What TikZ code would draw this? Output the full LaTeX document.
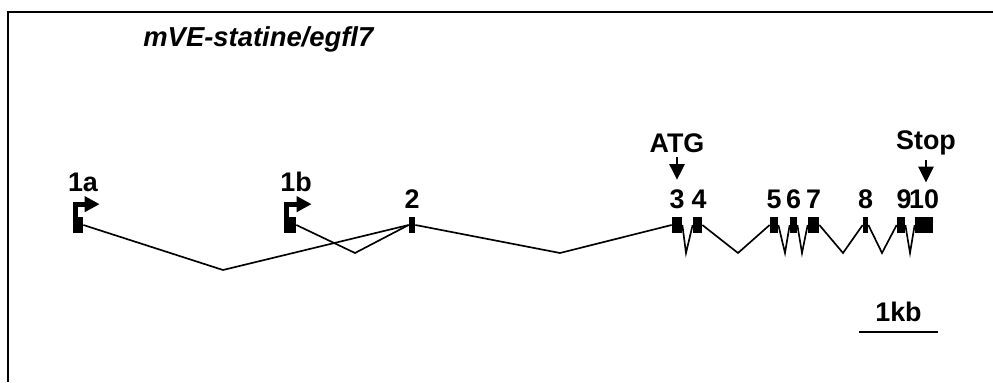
\documentclass[tikz,border=0pt]{standalone}
\usepackage{fontspec}
\setmainfont{Liberation Sans}
\usetikzlibrary{positioning,arrows.meta,calc}

\begin{document}
\begin{tikzpicture}[x=0.02cm, y=0.02cm, %
        exon/.style={fill=black, rectangle, inner sep=0pt, minimum height=0.32cm},
        intron/.style={draw, line width=0.95pt, line join=miter},
        lab/.style={inner sep=0pt, font=\fontsize{15.3}{17}\selectfont\bfseries},
        prom/.style={draw, line width=2.8pt, line join=miter, -{Triangle[length=8.5pt, width=8.5pt]}},
        pointer/.style={draw, line width=1.6pt, -{Triangle[length=9pt, width=8.5pt]}}
        ]
        \useasboundingbox (0,0) rectangle (993,382);
        \draw[line width=1.1pt] (8,0) |- (993,370);
        \node[lab, font=\fontsize{15.6}{17}\selectfont\bfseries\itshape, anchor=west] (gene) at (143,343) {mVE-statine/egfl7};
        % exons
        \foreach \n/\x/\w in {1a/78/10, 1b/290/12, 2/412/6, 3/677/10, 4/697.5/9,
          5/774/8, 6/793.5/7, 7/813.5/11, 8/865.5/5, 9/901/8, 10/924/18}
          \node[exon, minimum width=\w*0.02cm] (e\n) at (\x,157) {};
        \foreach \n/\s in {2/0, 3/0, 4/1.5, 5/0, 6/0, 7/0, 8/0, 9/3, 10/0}
          \node[lab, above=0.15cm of e\n, xshift=\s*0.02cm] (l\n) {\n};
        \node[lab] (l1a) at (83,200) {1a};
        \node[lab] (l1b) at (296,200) {1b};
        % promoters
        \draw[prom] ([xshift=0.05cm]e1a.north west) |- ++(24.5,12.5);
        \draw[prom] ([xshift=0.05cm]e1b.north west) |- ++(25.5,12.5);
        % splicing
        \draw[intron] (e1a.east) -- (223,112) -- (e2.west);
        \draw[intron] (e1b.east) -- (355,129) -- (e2.west);
        \draw[intron] (e2.east) -- (560,129) -- (e3.west);
        \draw[intron] (e3.east) -- (686,129) -- (e4.west);
        \draw[intron] (e4.east) -- (738,129) -- (e5.west);
        \draw[intron] (e5.east) -- (785,129) -- (e6.west);
        \draw[intron] (e6.east) -- (802,129) -- (e7.west);
        \draw[intron] (e7.east) -- (843,129) -- (e8.west);
        \draw[intron] (e8.east) -- (882,129) -- (e9.west);
        \draw[intron] (e9.east) -- (910,129) -- (e10.west);
        % start / stop
        \node[lab] (atg) at (677,239) {ATG};
        \node[lab] (stop) at (926,239) {Stop};
        \draw[pointer] ([yshift=-0.09cm]atg.south) -- ++(0,-0.45cm);
        \draw[pointer] ([yshift=-0.09cm]stop.south) -- ++(0,-0.45cm);
        % scale
        \coordinate (sb1) at (859,50);
        \coordinate (sb2) at (938,50);
        \draw[line width=1.7pt] (sb1) -- (sb2);
        \node[lab, above=0.2cm] (kb) at ($(sb1)!0.5!(sb2)$) {1kb};
      \end{tikzpicture}
\end{document}
